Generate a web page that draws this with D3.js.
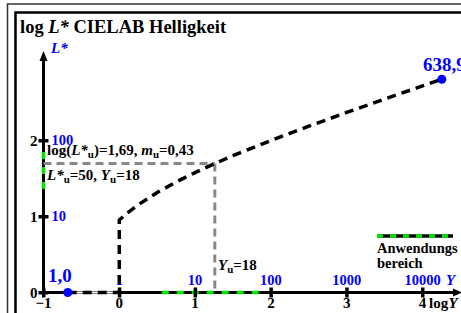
<!DOCTYPE html>
<html>
<head>
<meta charset="utf-8">
<script src="https://cdn.jsdelivr.net/npm/d3@7"></script>
<style>
body { margin: 0; background: #fff; }
svg { display: block; font-family: "Liberation Serif", "Times New Roman", serif; font-weight: bold; }
</style>
</head>
<body>
<div id="chart"></div>
<script>
// kurve: log Y -> log L*
var curveX = [-0.68, 0, 0, 0.1, 0.25, 0.5, 0.75, 1, 1.26, 1.5, 2, 2.5, 3, 3.5, 4, 4.255];
var curveY = [0, 0, 0.954, 1.041, 1.155, 1.316, 1.454, 1.578, 1.697, 1.80, 2.0, 2.188, 2.369, 2.545, 2.718, 2.806];
var xTicks = [-1, 0, 1, 2, 3, 4];
var xTickLabels = ["\u22121", "0", "1", "2", "3", "4"];
var yTicks = [0, 1, 2];
var xBlue = [0, 1, 2, 3, 4];
var xBlueLabels = ["1", "10", "100", "1000", "10000"];
var yBlue = [1, 2];
var yBlueLabels = ["10", "100"];
var rangeX = [0.56, 1.86];   // Anwendungsbereich auf log Y
var rangeY = [1.33, 1.85];   // Anwendungsbereich auf log L*
var uX = 1.26, uY = 1.697;
var dotLow = [-0.68, 0], dotHigh = [4.255, 2.806];

var W = 461, H = 313;
var x = d3.scaleLinear().domain([-1, 4]).range([43.5, 422.5]);
var y = d3.scaleLinear().domain([0, 2]).range([292.5, 140.5]);

var svg = d3.select("#chart").append("svg").attr("width", W).attr("height", H);

// rahmen
svg.append("rect").attr("x", 7.5).attr("y", 4).attr("width", 480).attr("height", 330)
    .attr("fill", "none").attr("stroke", "#333").attr("stroke-width", 1.5);
svg.append("rect").attr("x", 15.5).attr("y", 12.5).attr("width", 470).attr("height", 320)
    .attr("fill", "none").attr("stroke", "#000").attr("stroke-width", 2.5);

svg.append("text").attr("x", 20).attr("y", 33).attr("font-size", 18.5)
    .html('log <tspan font-style="italic">L*</tspan> CIELAB Helligkeit');

// achsen
svg.append("line").attr("x1", x(-1)).attr("x2", 456).attr("y1", y(0)).attr("y2", y(0))
    .attr("stroke", "#000").attr("stroke-width", 3);
svg.append("path").attr("d", "M462," + y(0) + "l-9,-4l0,8z").attr("fill", "#000");
svg.append("line").attr("x1", x(-1)).attr("x2", x(-1)).attr("y1", y(0)).attr("y2", 60)
    .attr("stroke", "#000").attr("stroke-width", 3);
svg.append("path").attr("d", "M" + x(-1) + ",51l-4,10l8,0z").attr("fill", "#000");

// anwendungsbereich
svg.append("line").attr("x1", x(rangeX[0])).attr("x2", x(rangeX[1])).attr("y1", y(0)).attr("y2", y(0))
    .attr("stroke", "#00e600").attr("stroke-width", 3.5).attr("stroke-dasharray", "7,8");
svg.append("line").attr("x1", x(-1)).attr("x2", x(-1)).attr("y1", y(rangeY[1])).attr("y2", y(rangeY[0]))
    .attr("stroke", "#00e600").attr("stroke-width", 3.5).attr("stroke-dasharray", "7,8");

// ticks
svg.selectAll(".xt").data(xTicks).enter().append("rect")
    .attr("x", function(d) { return x(d) - 1.5; }).attr("y", y(0) - 5)
    .attr("width", 3.5).attr("height", 10).attr("fill", "#000");
svg.selectAll(".yt").data(yTicks).enter().append("rect")
    .attr("x", x(-1) - 5).attr("y", function(d) { return y(d) - 1.5; })
    .attr("width", 10).attr("height", 3.5).attr("fill", "#000");

svg.selectAll(".xl").data(xTicks).enter().append("text")
    .attr("x", function(d) { return x(d); }).attr("y", 308).attr("font-size", 15)
    .attr("text-anchor", "middle").text(function(d, i) { return xTickLabels[i]; });
svg.append("text").attr("x", 429).attr("y", 308).attr("font-size", 15).text("log");
svg.append("text").attr("x", 448.5).attr("y", 308).attr("font-size", 15)
    .attr("font-style", "italic").text("Y");
svg.selectAll(".yl").data(yTicks).enter().append("text")
    .attr("x", x(-1) - 6).attr("y", function(d) { return y(d) + 5; }).attr("font-size", 15)
    .attr("text-anchor", "end").text(function(d) { return d; });

svg.selectAll(".xb").data(xBlue).enter().append("text")
    .attr("x", function(d) { return x(d); }).attr("y", 285).attr("font-size", 14.5)
    .attr("fill", "#0000ff").attr("text-anchor", "middle")
    .text(function(d, i) { return xBlueLabels[i]; });
svg.append("text").attr("x", 446).attr("y", 285).attr("font-size", 15).attr("fill", "#0000ff")
    .attr("font-style", "italic").text("Y");
svg.selectAll(".yb").data(yBlue).enter().append("text")
    .attr("x", x(-1) + 8).attr("y", function(d) { return y(d) + 4; }).attr("font-size", 14.5)
    .attr("fill", "#0000ff").text(function(d, i) { return yBlueLabels[i]; });
svg.append("text").attr("x", 51).attr("y", 53).attr("font-size", 15).attr("fill", "#0000ff")
    .attr("font-style", "italic").text("L*");

// hilfslinien
svg.append("line").attr("x1", x(-1)).attr("x2", x(uX)).attr("y1", y(uY)).attr("y2", y(uY))
    .attr("stroke", "#888").attr("stroke-width", 3).attr("stroke-dasharray", "8,5");
svg.append("line").attr("x1", x(uX)).attr("x2", x(uX)).attr("y1", y(uY)).attr("y2", y(0))
    .attr("stroke", "#888").attr("stroke-width", 3).attr("stroke-dasharray", "8,5");

// kurve
svg.append("line").attr("x1", x(dotLow[0])).attr("x2", x(0)).attr("y1", y(0)).attr("y2", y(0))
    .attr("stroke", "#fff").attr("stroke-width", 2);
var line = d3.line().x(function(d) { return x(d[0]); }).y(function(d) { return y(d[1]); });
svg.append("path").datum(d3.zip(curveX, curveY)).attr("d", line)
    .attr("fill", "none").attr("stroke", "#000").attr("stroke-width", 3.5)
    .attr("stroke-dasharray", "9,6");

svg.selectAll(".dot").data([dotLow, dotHigh]).enter().append("circle")
    .attr("cx", function(d) { return x(d[0]); }).attr("cy", function(d) { return y(d[1]); })
    .attr("r", 4.5).attr("fill", "#0000ff");
svg.append("text").attr("x", 48).attr("y", 281.5).attr("font-size", 19).attr("fill", "#0000ff").text("1,0");
svg.append("text").attr("x", 423).attr("y", 71).attr("font-size", 19).attr("fill", "#0000ff").text("638,9");

// texte
svg.append("text").attr("x", 47).attr("y", 155).attr("font-size", 15)
    .html('log(<tspan font-style="italic">L*</tspan><tspan font-size="11" dy="3">u</tspan><tspan dy="-3">)=1,69, </tspan><tspan font-style="italic">m</tspan><tspan font-size="11" dy="3">u</tspan><tspan dy="-3">=0,43</tspan>');
svg.append("text").attr("x", 47).attr("y", 179.5).attr("font-size", 15)
    .html('<tspan font-style="italic">L*</tspan><tspan font-size="11" dy="3">u</tspan><tspan dy="-3">=50, </tspan><tspan font-style="italic">Y</tspan><tspan font-size="11" dy="3">u</tspan><tspan dy="-3">=18</tspan>');
svg.append("text").attr("x", 218).attr("y", 270).attr("font-size", 15)
    .html('<tspan font-style="italic">Y</tspan><tspan font-size="11" dy="3">u</tspan><tspan dy="-3">=18</tspan>');

// legende
svg.append("line").attr("x1", 377).attr("x2", 453).attr("y1", 236).attr("y2", 236)
    .attr("stroke", "#000").attr("stroke-width", 3.5);
svg.append("line").attr("x1", 377).attr("x2", 453).attr("y1", 236).attr("y2", 236)
    .attr("stroke", "#00e600").attr("stroke-width", 3.5).attr("stroke-dasharray", "6,7");
svg.append("text").attr("x", 377).attr("y", 253).attr("font-size", 14.5).text("Anwendungs");
svg.append("text").attr("x", 377).attr("y", 268).attr("font-size", 14.5).text("bereich");
</script>
</body>
</html>
